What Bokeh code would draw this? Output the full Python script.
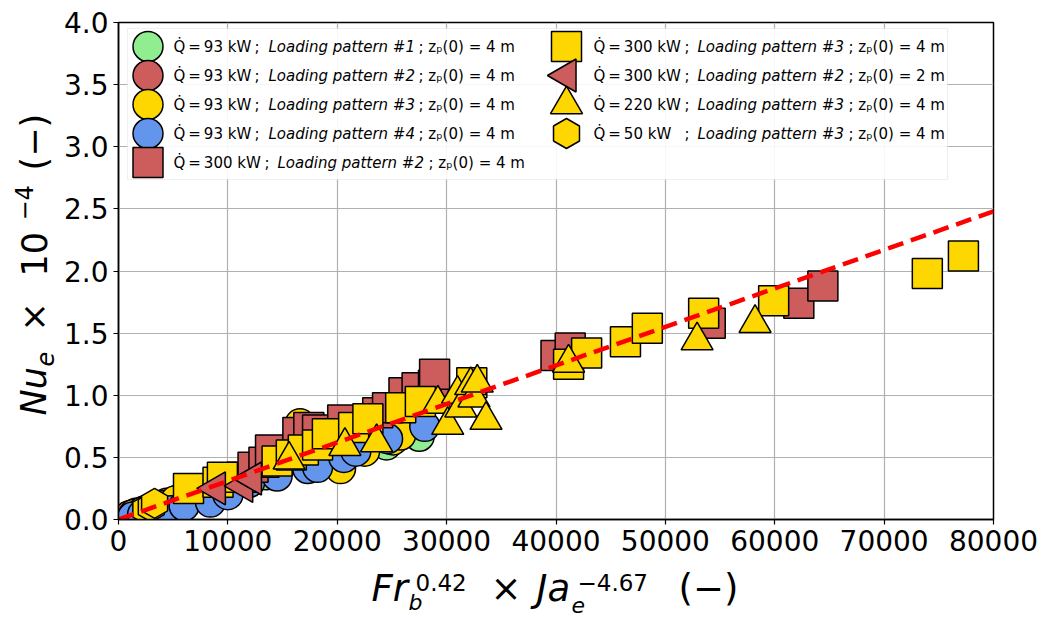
import numpy as np
from bokeh.plotting import figure
from bokeh.layouts import row, column
from bokeh.models import (Range1d, Label, FixedTicker, NumeralTickFormatter, BoxAnnotation)
from bokeh.embed import file_html
from bokeh.resources import INLINE

# ---------------- data ----------------
q93_lp1_x = [1200, 1800, 2600, 3500, 4500, 6000, 8000, 10500, 13500, 17000, 21000, 24500, 27500]
q93_lp1_y = [0.03, 0.05, 0.07, 0.09, 0.12, 0.16, 0.21, 0.28, 0.36, 0.45, 0.53, 0.60, 0.67]

q93_lp2_x = [1000, 1600, 2400, 3300, 4400, 5800, 7500, 9500, 12000, 15000, 18500, 22000, 25500]
q93_lp2_y = [0.03, 0.05, 0.07, 0.10, 0.13, 0.17, 0.22, 0.29, 0.37, 0.46, 0.55, 0.63, 0.70]

q93_lp3_x = [1400, 2200, 3000, 4000, 5200, 6800, 8800, 11000, 13500, 16000, 16600, 17400, 18000, 20300, 22500, 25100, 25800]
q93_lp3_y = [0.04, 0.06, 0.09, 0.11, 0.15, 0.19, 0.25, 0.32, 0.40, 0.50, 0.77, 0.72, 0.45, 0.41, 0.55, 0.64, 0.68]

q93_lp4_x = [1300, 2200, 3200, 4750, 6000, 8400, 10000, 12000, 14500, 17300, 18200, 20600, 21700, 23700, 24600, 28000]
q93_lp4_y = [0.02, 0.04, 0.05, 0.07, 0.11, 0.14, 0.20, 0.30, 0.35, 0.41, 0.42, 0.50, 0.55, 0.69, 0.65, 0.75]

q300_lp2_x = [11300, 12300, 13300, 13900, 16400, 17400, 18200, 20500, 23700, 24600, 26100, 27300, 28800, 28900,
              40000, 41300, 54100, 62200, 64400]
q300_lp2_y = [0.34, 0.42, 0.46, 0.56, 0.70, 0.74, 0.72, 0.80, 0.86, 0.90, 1.02, 1.06, 1.08, 1.17,
              1.32, 1.38, 1.58, 1.74, 1.88]

q300_lp3_x = [6400, 9100, 9500, 14500, 15800, 16900, 18200, 19100, 21500, 22800, 25800, 27600, 32300,
              41150, 42800, 46350, 48350, 53500, 59900, 73950, 77250]
q300_lp3_y = [0.25, 0.30, 0.34, 0.47, 0.52, 0.56, 0.60, 0.69, 0.74, 0.81, 0.90, 0.95, 1.10,
              1.25, 1.34, 1.43, 1.54, 1.66, 1.76, 1.98, 2.12]

q300_lp2_z2_x = [8900, 11400, 12200]
q300_lp2_z2_y = [0.25, 0.27, 0.33]

q220_lp3_x = [15600, 20700, 23600, 29200, 30100, 31000, 31300, 32200, 32500, 32800, 33600, 41150, 52900, 58200]
q220_lp3_y = [0.48, 0.59, 0.62, 0.93, 0.76, 1.01, 0.90, 1.08, 0.98, 1.10, 0.80, 1.26, 1.44, 1.58]

q50_lp3_x = [2500, 3000, 3300]
q50_lp3_y = [0.08, 0.10, 0.13]

fit_slope = 3.1e-5          # correlation line Nu_e*1e-4 = slope * X
fit_x = [0, 80000]

x_ticks = [0, 10000, 20000, 30000, 40000, 50000, 60000, 70000, 80000]
y_ticks = [0.0, 0.5, 1.0, 1.5, 2.0, 2.5, 3.0, 3.5, 4.0]

powers = ["93", "93", "93", "93", "300", "300", "300", "220", "50"]
patterns = ["#1", "#2", "#3", "#4", "#2", "#3", "#2", "#3", "#3"]
depths = ["4", "4", "4", "4", "4", "4", "2", "4", "4"]

GREEN, RED, GOLD, BLUE = "#90EE90", "#CD5C5C", "#FFD700", "#6495ED"

series = [
    (q93_lp1_x, q93_lp1_y, "circle", GREEN, 30, 0.0),
    (q93_lp2_x, q93_lp2_y, "circle", RED, 30, 0.0),
    (q93_lp3_x, q93_lp3_y, "circle", GOLD, 30, 0.0),
    (q93_lp4_x, q93_lp4_y, "circle", BLUE, 30, 0.0),
    (q300_lp2_x, q300_lp2_y, "square", RED, 30, 0.0),
    (q300_lp3_x, q300_lp3_y, "square", GOLD, 30, 0.0),
    (q300_lp2_z2_x, q300_lp2_z2_y, "triangle", RED, 33, np.pi / 2),
    (q220_lp3_x, q220_lp3_y, "triangle", GOLD, 32, 0.0),
    (q50_lp3_x, q50_lp3_y, "hex", GOLD, 30, np.pi / 6),
]

# ---------------- layout sizes ----------------
YT_W = 60                    # width of the y-title strip
FIG_W, FIG_H = 982, 565
XT_H = 54                    # height of the x-title strip
ML, MR, MT, MB = 58, 49, 22, 46
FRAME_W = FIG_W - ML - MR    # 875
FRAME_H = FIG_H - MT - MB    # 497
MID = 0.346                  # distance baseline -> middle of the em box, in em

p = figure(width=FIG_W, height=FIG_H, output_backend="svg", toolbar_location=None,
           x_range=Range1d(0, 80000), y_range=Range1d(0, 4.0),
           min_border_left=ML, min_border_right=MR, min_border_top=MT, min_border_bottom=MB)
p.background_fill_color = "white"
p.border_fill_color = "white"
p.outline_line_color = "black"
p.outline_line_width = 1.5
# pixel ranges for the hand-built legend (frame pixels)
p.extra_x_ranges = {"px": Range1d(0, FRAME_W)}
p.extra_y_ranges = {"px": Range1d(0, FRAME_H)}

for ax in (p.xaxis[0], p.yaxis[0]):
    ax.major_label_text_font = "DejaVu Sans"
    ax.major_label_text_font_size = "28px"
    ax.major_label_text_color = "black"
    ax.axis_line_color = "black"
    ax.axis_line_width = 1.5
    ax.major_tick_line_color = "black"
    ax.major_tick_line_width = 1.2
    ax.major_tick_out = 5
    ax.major_tick_in = 0
    ax.minor_tick_line_color = None
    ax.major_label_standoff = 5

p.xaxis.ticker = FixedTicker(ticks=x_ticks)
p.yaxis.ticker = FixedTicker(ticks=y_ticks)
p.xaxis.formatter = NumeralTickFormatter(format="0")
p.yaxis.formatter = NumeralTickFormatter(format="0.0")
p.xgrid.ticker = FixedTicker(ticks=x_ticks)
p.ygrid.ticker = FixedTicker(ticks=y_ticks)
p.grid.grid_line_color = "#b0b0b0"
p.grid.grid_line_width = 1.2

# legend frame (under the glyphs)
p.add_layout(BoxAnnotation(left=9, right=829, top=491, bottom=340, level="underlay",
                           left_units="screen", right_units="screen",
                           top_units="screen", bottom_units="screen",
                           fill_color="white", fill_alpha=0.9,
                           line_color="#cccccc", line_width=1.2))

for xs, ys, marker, color, size, ang in series:
    p.scatter(xs, ys, marker=marker, size=size, angle=ang,
              fill_color=color, line_color="black", line_width=1.5)

fit_y = [fit_slope * v for v in fit_x]
p.line(fit_x, fit_y, line_color="#FF0000", line_width=4.5, line_dash="16 8")

# ---------------- hand-built legend (2 columns: 5 + 4 entries) ----------------
ROW_Y = [473, 444, 415, 386, 357]          # frame pixels from the bottom
COL_MARK_X = [29.5, 448]
COL_TEXT_X = [55, 475]
TS = "\u2009"                               # thin space


def txt(fig, text, x, y, size, italic=False, angle=0.0):
    fig.add_layout(Label(x=x, y=y, x_units="screen", y_units="screen", text=text,
                         angle=angle, text_font="DejaVu Sans", text_font_size=f"{size}px",
                         text_font_style="italic" if italic else "normal",
                         text_align="left", text_baseline="middle", text_color="black"))


for i, ((xs, ys, marker, color, size, ang), pw, pat, dp) in enumerate(zip(series, powers, patterns, depths)):
    col, r = (0, i) if i < 5 else (1, i - 5)
    p.scatter([COL_MARK_X[col]], [ROW_Y[r]], x_range_name="px", y_range_name="px",
              marker=marker, size=size, angle=ang,
              fill_color=color, line_color="black", line_width=1.5)
    x0, y0 = COL_TEXT_X[col], ROW_Y[r]
    semi, off_b, off_c = (81, 95, 245) if pw == "93" else (91, 104, 255)
    txt(p, f"Q\u0307{TS}={TS}{pw} kW", x0, y0, 15)
    txt(p, ";", x0 + semi, y0, 15)
    txt(p, f"Loading pattern {pat}", x0 + off_b, y0, 15, italic=True)
    txt(p, f"; z\u209a(0) = {dp} m", x0 + off_c, y0, 15)

# ---------------- axis titles in their own strips (real text) ----------------
# x strip: same left/right borders as the plot so its frame lines up with the plot frame
xt = figure(width=FIG_W, height=XT_H, output_backend="svg", toolbar_location=None,
            x_range=Range1d(0, 1), y_range=Range1d(0, 1), x_axis_type=None, y_axis_type=None,
            min_border_left=ML, min_border_right=MR, min_border_top=0, min_border_bottom=0)
xt.outline_line_color = None
xt.grid.visible = False


def xpiece(text, x, base, size, italic=False):
    # base: baseline height above the strip bottom
    txt(xt, text, x, base + MID * size, size, italic)


# Fr_b^0.42 × Ja_e^-4.67 (−)
xpiece("Fr", 253, 18, 37, italic=True)
xpiece("b", 290, 9, 22, italic=True)
xpiece("0.42", 297, 29, 23)
xpiece("\u00d7", 372, 18, 37)
xpiece("Ja", 418, 18, 37, italic=True)
xpiece("e", 453, 7, 22, italic=True)
xpiece("\u22124.67", 459, 29, 23)
xpiece("(\u2212)", 560, 18, 37)

# y strip: same top/bottom borders as the plot
yt = figure(width=YT_W, height=FIG_H, output_backend="svg", toolbar_location=None,
            x_range=Range1d(0, 1), y_range=Range1d(0, 1), x_axis_type=None, y_axis_type=None,
            min_border_left=0, min_border_right=0, min_border_top=MT, min_border_bottom=MB)
yt.outline_line_color = None
yt.grid.visible = False
A = np.pi / 2


def ypiece(text, base_x, y, size, italic=False):
    # base_x: baseline position from the strip's left edge (glyphs grow to the left)
    txt(yt, text, base_x - MID * size, y, size, italic, angle=A)


# Nu_e × 10^-4 (−)
ypiece("Nu", 46, 104, 35, italic=True)
ypiece("e", 53, 153, 24, italic=True)
ypiece("\u00d7", 46, 188, 35)
ypiece("10", 46, 243, 35)
ypiece("\u22124", 32, 299, 24)
ypiece("(\u2212)", 46, 349, 35)

layout = row(yt, column(p, xt))
open("out.html", "w").write(file_html(layout, INLINE))
